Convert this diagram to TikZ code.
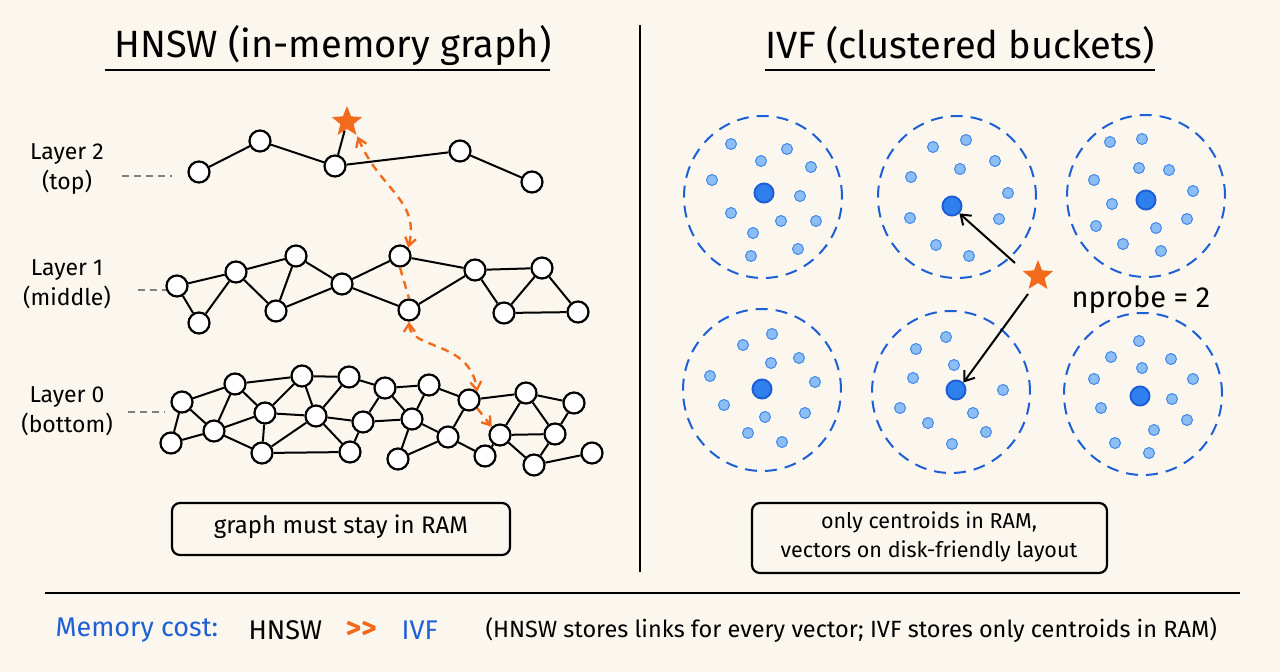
\documentclass[tikz,border=0pt]{standalone}
\usepackage{fontspec}
\setmainfont{Fira Sans}
\usetikzlibrary{shapes.geometric,arrows.meta}
\definecolor{bg}{HTML}{FBF7EE}
\definecolor{org}{HTML}{F26A1B}
\definecolor{dblue}{HTML}{1F5FD6}
\definecolor{cblue}{HTML}{2F7FEF}
\definecolor{lblue}{HTML}{8CBDF5}
\definecolor{lbluel}{HTML}{3F87E8}
\tikzset{
 g/.style={circle,draw=black,line width=2.2pt,fill=white,minimum size=21pt,inner sep=0pt},
 e/.style={line width=2pt},
 ostar/.style={star,star points=5,star point ratio=2.3,fill=org,draw=none,minimum size=32pt,inner sep=0pt},
 oarr/.style={org,line width=2.4pt,dash pattern=on 8pt off 6pt,-{Straight Barb[length=8pt,width=11pt]}},
 clus/.style={draw=dblue,line width=2pt,dash pattern=on 12pt off 8pt},
 cen/.style={circle,fill=cblue,draw=dblue,line width=2pt,minimum size=19pt,inner sep=0pt},
 pt/.style={circle,fill=lblue,draw=lbluel,line width=1pt,minimum size=11pt,inner sep=0pt},
 box/.style={draw=black,line width=2.2pt,rounded corners=8pt,fill=none},
 lab/.style={font=\fontsize{23}{30}\selectfont,align=center},
}
\begin{document}
\begin{tikzpicture}[x=1pt,y=-1pt]
\fill[bg] (0,0) rectangle (1280,672);
\useasboundingbox (0,0) rectangle (1280,672);
% titles
\node[font=\fontsize{38}{44}\selectfont] (t1) at (333,45) {HNSW (in-memory graph)};
\node[font=\fontsize{38}{44}\selectfont] (t2) at (960,45) {IVF (clustered buckets)};
\draw[line width=2.2pt] (105,70) -- (550,70);
\draw[line width=2.2pt] (765,70) -- (1155,70);
\draw[line width=1.8pt] (640,25) -- (640,572);
\draw[line width=1.8pt] (45,593) -- (1240,593);
% layer labels
\node[lab] (l2) at (67,169) {Layer 2\\(top)};
\node[lab] (l1) at (67,284) {Layer 1\\(middle)};
\node[lab] (l0) at (67,411) {Layer 0\\(bottom)};
\draw[gray,line width=1.2pt,dash pattern=on 7pt off 5pt] (122,176) -- (172,176);
\draw[gray,line width=1.2pt,dash pattern=on 7pt off 5pt] (138,290) -- (168,290);
\draw[gray,line width=1.2pt,dash pattern=on 7pt off 5pt] (128,412) -- (165,412);
% layer 2
\foreach \n/\x/\y in {a/199/172,b/260/141,c/335/166,d/460/151,e/532/182}{\node[g] (p\n) at (\x,\y) {};}
\node[ostar] (s1) at (347,122) {};
\draw[e] (pa)--(pb) (pb)--(pc) (pc)--(pd) (pd)--(pe) (pc)--(s1);
% layer 1
\foreach \n/\x/\y in {a/177/286,b/236/272,c/296/256,d/199/323,e/276/311,f/342/284,g/400/256,h/409/310,i/475/270,j/542/268,k/504/313,l/578/312}{\node[g] (q\n) at (\x,\y) {};}
\foreach \u/\v in {a/b,a/d,d/b,b/c,b/e,c/e,c/f,e/f,f/g,f/h,g/i,h/i,i/j,i/k,j/k,k/l,j/l}{\draw[e] (q\u)--(q\v);}
% layer 0
\foreach \n/\x/\y in {A/182/402,B/235/384,D/302/376,G/349/377,I/385/388,J/429/385,M/469/400,N/526/393,O/574/403,F/171/443,C/214/431,E/265/413,H/316/416,K/363/422,L/412/419,Q/448/437,P/500/435,R/555/434,S/262/453,T/350/452,U/398/459,V/485/456,W/534/465,X/592/453}{\node[g] (r\n) at (\x,\y) {};}
\foreach \u/\v in {A/B,A/F,A/C,B/D,B/C,B/E,D/G,D/E,D/H,G/I,G/H,I/J,I/K,I/L,J/M,J/L,M/N,M/Q,N/O,N/P,N/R,O/R,F/C,C/E,C/S,E/H,E/S,H/T,H/K,H/S,S/T,K/T,K/L,L/U,L/Q,Q/U,Q/V,P/W,P/R,R/W,W/X,V/P}{\draw[e] (r\u)--(r\v);}
% orange path
\draw[oarr,{Straight Barb[length=8pt,width=11pt]}-{Straight Barb[length=8pt,width=11pt]}] (s1.south east) ++(2,6) .. controls (380,190) and (420,200) .. (qg.north east);
\draw[org,line width=2.4pt,dash pattern=on 8pt off 6pt] (qg.south) -- (qh.north);
\draw[oarr,{Straight Barb[length=8pt,width=11pt]}-{Straight Barb[length=8pt,width=11pt]}] (qh.south) .. controls (410,350) and (470,340) .. (rM.north east);
\draw[oarr] (rM.south east) -- (rP.north west);
% IVF clusters
\foreach \n/\x/\y in {1/763/197,2/957/197,3/1146/196,4/762/390,5/951/392,6/1143/394}{\draw[clus] (\x,\y) ellipse (79pt and 81pt); \coordinate (k\n) at (\x,\y);}
\foreach \x/\y in {731/144,787/149,761/161,811/167,712/180,800/196,731/213,781/221,816/221,753/233,798/249,751/256,
933/147,966/140,995/161,960/169,911/177,1008/193,910/218,999/219,936/245,969/256,
1110/142,1142/139,1139/168,1169/170,1094/180,1193/191,1112/204,1187/219,1096/226,1156/228,1123/244,1161/251,
772/334,743/345,799/358,771/363,710/376,815/382,724/405,805/413,765/417,748/433,782/442,
946/337,916/349,954/365,913/378,1003/390,900/408,973/413,928/423,986/432,952/444,
1139/341,1111/357,1171/359,1142/368,1094/379,1193/379,1172/399,1101/408,1187/420,1154/430,1115/443,1149/453}{\node[pt] at (\x,\y) {};}
\foreach \n/\x/\y in {1/764/193,2/952/206,3/1146/200,4/762/389,5/956/390,6/1140/396}{\node[cen] (c\n) at (\x,\y) {};}
\node[ostar] (s2) at (1038,276) {};
\draw[line width=2pt,-{Straight Barb[length=9pt,width=13pt]}] (1015,263) -- (c2.south east);
\draw[line width=2pt,-{Straight Barb[length=9pt,width=13pt]}] (1028,294) -- (c5.north east);
\node[font=\fontsize{29}{32}\selectfont,anchor=west] (np) at (1068,300) {nprobe = 2};
% boxes
\draw[box] (172,503) rectangle (510,555);
\node[font=\fontsize{24}{28}\selectfont] (b1) at (341,527) {graph must stay in RAM};
\draw[box] (752,503) rectangle (1107,573);
\node[font=\fontsize{21.5}{29}\selectfont,align=center] (b2) at (929,537) {only centroids in RAM,\\vectors on disk-friendly layout};
% bottom
\node[font=\fontsize{27}{30}\selectfont,anchor=west,text=dblue] (m1) at (52,630) {Memory cost:};
\node[font=\fontsize{27}{30}\selectfont,anchor=west] (m2) at (245,630) {HNSW};
\node[font=\fontsize{30}{30}\selectfont\bfseries,anchor=west,text=org] (m3) at (342,630) {{>}{>}};
\node[font=\fontsize{27}{30}\selectfont,anchor=west,text=dblue] (m4) at (398,630) {IVF};
\node[font=\fontsize{23.5}{28}\selectfont,anchor=west] (m5) at (482,630) {(HNSW stores links for every vector; IVF stores only centroids in RAM)};
\end{tikzpicture}
\end{document}
